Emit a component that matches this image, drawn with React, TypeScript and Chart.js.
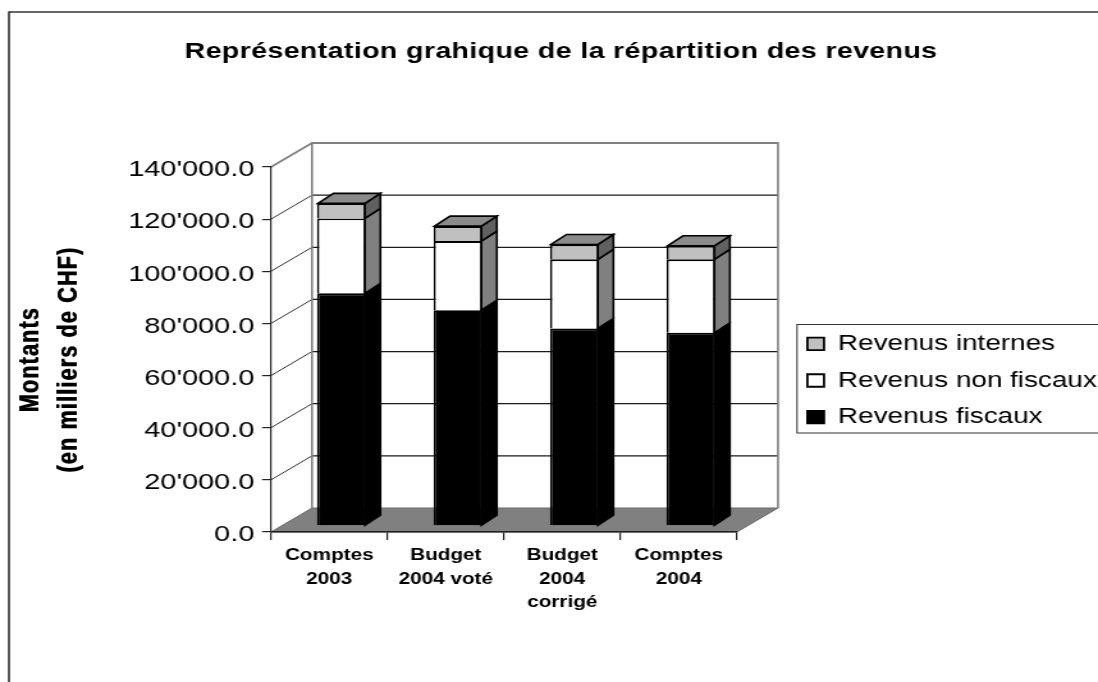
import React, { useEffect, useRef } from "react";
import { Chart, registerables } from "chart.js";

Chart.register(...registerables);

const categories = [["Comptes", "2003"], ["Budget", "2004 voté"], ["Budget", "2004", "corrigé"], ["Comptes", "2004"]];
const revenusFiscaux = [89150, 82700, 75700, 74000];
const revenusNonFiscaux = [28750, 26500, 26500, 28200];
const revenusInternes = [5760, 5760, 5700, 5200];
const frontColors = ["#000000", "#ffffff", "#c0c0c0"];
const sideColors = ["#000000", "#808080", "#606060"];
const topColor = "#8a8a8a";
const floorColor = "#808080";
const FONT = '"Liberation Sans", Arial, sans-serif';

const CW = 858;
const CH = 682;
const S = 1098 / CW; // the reference is horizontally stretched

const WALL_DX = 41 / S;
const WALL_DY = 24;
const BAR_DX = 12.2 / S;
const BAR_DY = 6.2;
const SIDE_DX = 15.5 / S;
const SIDE_DY = 10;
const TITLE_SIZE = 22.3;

function poly(ctx: CanvasRenderingContext2D, pts: number[][], fill?: string, stroke?: string, lw = 1) {
  ctx.beginPath();
  pts.forEach(([x, y], i) => (i ? ctx.lineTo(x, y) : ctx.moveTo(x, y)));
  ctx.closePath();
  if (fill) { ctx.fillStyle = fill; ctx.fill(); }
  if (stroke) { ctx.strokeStyle = stroke; ctx.lineWidth = lw; ctx.lineJoin = "miter"; ctx.stroke(); }
}
function seg(ctx: CanvasRenderingContext2D, x1: number, y1: number, x2: number, y2: number, color: string, lw: number) {
  ctx.beginPath(); ctx.moveTo(x1, y1); ctx.lineTo(x2, y2);
  ctx.strokeStyle = color; ctx.lineWidth = lw; ctx.stroke();
}

const chart3d = {
  id: "chart3d",
  afterLayout(chart: any) {
    const c = chart.ctx;
    const lg = chart.legend;
    if (lg) { lg.left = 616; lg.right = CW; lg.top = 318; lg.bottom = CH; }
    const tb = chart.titleBlock;
    if (tb) {
      tb.left = 18.8;
      tb.right = CW;
      if (!tb.__patched) {
        tb.__patched = true;
        const orig = tb.draw.bind(tb);
        tb.draw = (...a: any[]) => { c.save(); c.letterSpacing = "0.3px"; orig(...a); c.restore(); };
      }
    }
    const y = chart.scales.y;
    if (y && !y.__patched) {
      y.__patched = true;
      const origTitle = y.drawTitle.bind(y);
      y.drawTitle = (...a: any[]) => {
        c.save();
        c.letterSpacing = "1.2px";
        [-0.4, 0.4].forEach((d) => { c.save(); c.translate(0, 10 + d); origTitle(...a); c.restore(); });
        c.restore();
      };
      const origLabels = y.drawLabels.bind(y);
      y.drawLabels = (...a: any[]) => { c.save(); c.translate(0, 3); origLabels(...a); c.restore(); };
    }
  },
  beforeDraw(chart: any) {
    const { ctx, chartArea: a, scales } = chart;
    const yS = scales.y;
    ctx.save();
    ctx.fillStyle = "#fff";
    ctx.fillRect(0, 0, CW, CH);
    // page frame
    seg(ctx, 7, 12, CW, 12, "#333", 1.6);
    seg(ctx, 7, 11.5, 7, CH, "#111", 1.4);
    // floor
    poly(ctx, [[a.left, a.bottom], [a.right, a.bottom], [a.right + WALL_DX, a.bottom - WALL_DY], [a.left + WALL_DX, a.bottom - WALL_DY]], floorColor, "#6a6a6a", 1);
    // gridlines on side wall and back wall
    yS.ticks.forEach((t: any) => {
      if (t.value === 0) return;
      const py = yS.getPixelForValue(t.value);
      const top = t.value === yS.max;
      const col = top ? "#808080" : "#1a1a1a";
      seg(ctx, a.left, py, a.left + WALL_DX, py - WALL_DY, top ? "#808080" : "#333", top ? 1.6 : 1);
      seg(ctx, a.left + WALL_DX, py - WALL_DY, a.right + WALL_DX, py - WALL_DY, col, top ? 2 : 1.3);
    });
    // wall edges
    seg(ctx, a.left + WALL_DX, a.top - WALL_DY - 1, a.left + WALL_DX, a.bottom - WALL_DY, "#808080", 1.6);
    seg(ctx, a.right + WALL_DX, a.top - WALL_DY - 1, a.right + WALL_DX, a.bottom - WALL_DY, "#808080", 1.6);
    // legend frame
    ctx.strokeStyle = "#333"; ctx.lineWidth = 1;
    ctx.strokeRect(797 / S, 324.5, CW, 108.5);
    ctx.restore();
  },
  beforeDatasetsDraw(chart: any) {
    chart.ctx.save();
    chart.ctx.translate(BAR_DX, -BAR_DY);
  },
  afterDatasetsDraw(chart: any) {
    const { ctx } = chart;
    chart.data.datasets.forEach((ds: any, i: number) => {
      chart.getDatasetMeta(i).data.forEach((el: any) => {
        const { x, y, base, width } = el.getProps(["x", "y", "base", "width"], true);
        const xr = x + width / 2 - 0.8;
        const pts = [[xr, y], [xr + SIDE_DX, y - SIDE_DY], [xr + SIDE_DX, base - SIDE_DY], [xr, base]];
        poly(ctx, pts, sideColors[i], "#000", 1.6);
        if (i === chart.data.datasets.length - 1) {
          const xl = x - width / 2 + 0.8;
          poly(ctx, [[xl, y], [xl + SIDE_DX, y - SIDE_DY], [xr + SIDE_DX, y - SIDE_DY], [xr, y]], topColor, "#000", 1.6);
        }
      });
    });
    ctx.restore();
  },
};

function App() {
  const ref = useRef<HTMLCanvasElement | null>(null);
  useEffect(() => {
    if (!ref.current) return;
    const mk = (label: string, data: number[], i: number) => ({
      label, data,
      backgroundColor: frontColors[i],
      borderColor: "#000000",
      borderWidth: 1.8,
      clip: false as any,
      barPercentage: 1,
      categoryPercentage: 0.42,
    });
    const chart = new Chart(ref.current, {
      type: "bar",
      data: {
        labels: categories as any,
        datasets: [
          mk("Revenus fiscaux", revenusFiscaux, 0),
          mk("Revenus non fiscaux", revenusNonFiscaux, 1),
          mk("Revenus internes", revenusInternes, 2),
        ],
      },
      plugins: [chart3d],
      options: {
        responsive: false,
        animation: false,
        devicePixelRatio: 1,
        layout: { padding: { left: 0, top: 0, bottom: 0, right: CW - 737 / S } },
        plugins: {
          tooltip: { enabled: false },
          title: {
            display: true,
            text: "Représentation grahique de la répartition des revenus",
            color: "#000",
            font: { family: FONT, size: TITLE_SIZE, weight: "bold", lineHeight: 1.2 },
            padding: { top: 38, bottom: 167 - 38 - TITLE_SIZE * 1.2 },
          },
          legend: {
            position: "chartArea" as any,
            align: "start",
            reverse: true,
            labels: {
              color: "#000",
              font: { family: FONT, size: 21.8 },
              boxWidth: 13,
              boxHeight: 12.5,
              padding: 14.9,
            },
          },
        },
        scales: {
          x: {
            stacked: true,
            afterFit: (s: any) => { s.height = CH - 532; },
            border: { display: true, color: "#222", width: 1.6 },
            grid: { drawOnChartArea: false, drawTicks: true, tickLength: 8, color: "#222", lineWidth: 1.2 },
            ticks: {
              color: "#000", maxRotation: 0, autoSkip: false, padding: 4,
              font: { family: FONT, size: 16.2, weight: "bold", lineHeight: 23.5 / 16.2 },
            },
          },
          y: {
            stacked: true,
            min: 0,
            max: 140000,
            afterFit: (s: any) => { s.width = 271 / S; },
            border: { display: true, color: "#222", width: 1.2 },
            grid: { drawOnChartArea: false, drawTicks: true, tickLength: 7, color: "#222", lineWidth: 1.2 },
            ticks: {
              stepSize: 20000,
              color: "#000",
              padding: 6,
              font: { family: FONT, size: 22.6 },
              callback: (v: any) => (v === 0 ? "0.0" : `${Math.round(v / 1000)}'000.0`),
            },
            title: {
              display: true,
              text: ["Montants", "(en milliers de CHF)"],
              color: "#000",
              font: { family: FONT, size: 21.5, weight: "bold", lineHeight: 30 / 21.5 },
              padding: { top: 9, bottom: 0 },
            },
          },
        },
      },
    });
    return () => chart.destroy();
  }, []);
  return (
    <div style={{ position: "fixed", left: 0, top: 0, width: 1098, height: 682, overflow: "hidden", background: "#fff" }}>
      <canvas
        ref={ref}
        width={CW}
        height={CH}
        style={{ display: "block", width: CW, height: CH, transformOrigin: "0 0", transform: `scaleX(${S})` }}
      />
    </div>
  );
}

export default App;
